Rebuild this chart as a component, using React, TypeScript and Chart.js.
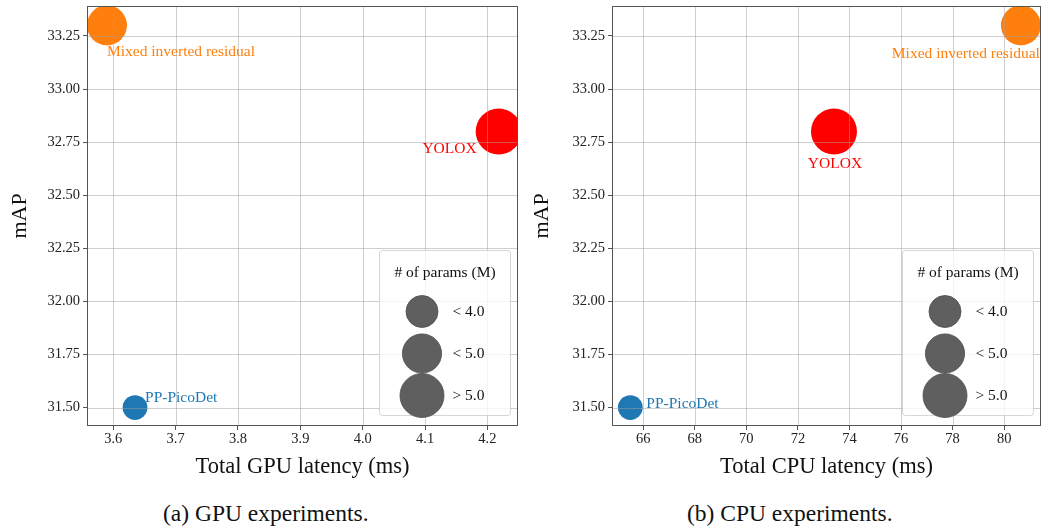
import React, { useEffect, useRef } from 'react';
import { Chart, registerables } from 'chart.js';

Chart.register(...registerables);

// ---------------- data ----------------
const models = ['PP-PicoDet', 'YOLOX', 'Mixed inverted residual'];
const modelColors = ['#1f77b4', '#ff0000', '#ff7f0e'];
const mAP = [31.5, 32.8, 33.3];
const gpuLatency = [3.635, 4.218, 3.59];
const cpuLatency = [65.5, 73.4, 80.65];
const paramsM = [3.1, 5.75, 5.0];

const legendTitle = '# of params (M)';
const legendLabels = ['< 4.0', '< 5.0', '> 5.0'];
const legendParams = [4.0, 4.9, 5.5];

const yTicks = [31.5, 31.75, 32.0, 32.25, 32.5, 32.75, 33.0, 33.25];
const gpuTicks = [3.6, 3.7, 3.8, 3.9, 4.0, 4.1, 4.2];
const cpuTicks = [66, 68, 70, 72, 74, 76, 78, 80];
const yRange = [31.413, 33.391];
const gpuRange = [3.558, 4.249];
const cpuRange = [64.79, 81.43];

// ---------------- styles ----------------
const FONT = '"Liberation Serif", "Times New Roman", serif';
const RADIUS_PER_M = 4; // px of bubble radius per million params
const GRID_COLOR = 'rgba(160,160,160,0.5)';
const SPINE_COLOR = '#555555';

type LabelStyle = { dx: number; dy: number; align: CanvasTextAlign };
const gpuLabelStyles: LabelStyle[] = [
  { dx: 10, dy: -10, align: 'left' },
  { dx: -22, dy: 17, align: 'right' },
  { dx: 0, dy: 27, align: 'left' },
];
const cpuLabelStyles: LabelStyle[] = [
  { dx: 16, dy: -4, align: 'left' },
  { dx: 1, dy: 32, align: 'center' },
  { dx: 19, dy: 29, align: 'right' },
];

type PanelProps = {
  xValues: number[];
  xTicks: number[];
  xRange: number[];
  xDecimals: number;
  xTitle: string;
  labelStyles: LabelStyle[];
  yAxisWidth: number;
  padRight: number;
  yTitlePad: number;
  width: number;
  height: number;
};

const overlayPlugin = {
  id: 'overlay',
  afterDatasetsDraw(chart: any, _args: any, opts: any) {
    const { ctx, chartArea: a } = chart;
    const xs = chart.scales.x;
    const ys = chart.scales.y;
    ctx.save();
    // grid above data (matplotlib axisbelow=False)
    ctx.beginPath();
    ctx.rect(a.left, a.top, a.right - a.left, a.bottom - a.top);
    ctx.clip();
    ctx.strokeStyle = GRID_COLOR;
    ctx.lineWidth = 1;
    ctx.beginPath();
    opts.xTicks.forEach((v: number) => {
      const px = Math.round(xs.getPixelForValue(v)) + 0.5;
      ctx.moveTo(px, a.top);
      ctx.lineTo(px, a.bottom);
    });
    yTicks.forEach((v: number) => {
      const py = Math.round(ys.getPixelForValue(v)) + 0.5;
      ctx.moveTo(a.left, py);
      ctx.lineTo(a.right, py);
    });
    ctx.stroke();
    ctx.restore();

    // point annotations
    ctx.save();
    ctx.font = `15.5px ${FONT}`;
    ctx.textBaseline = 'middle';
    models.forEach((name, i) => {
      const st: LabelStyle = opts.labelStyles[i];
      const px = xs.getPixelForValue(opts.xValues[i]);
      const py = ys.getPixelForValue(mAP[i]);
      ctx.fillStyle = modelColors[i];
      ctx.textAlign = st.align;
      ctx.fillText(name, px + st.dx, py + st.dy);
    });
    ctx.restore();

    // spines
    ctx.save();
    ctx.strokeStyle = SPINE_COLOR;
    ctx.lineWidth = 1;
    const l = Math.round(a.left) + 0.5;
    const t = Math.round(a.top) + 0.5;
    const r = Math.round(a.right) - 0.5;
    const b = Math.round(a.bottom) - 0.5;
    ctx.strokeRect(l, t, r - l, b - t);
    ctx.restore();

    // size legend
    ctx.save();
    const bw = 131;
    const bh = 165;
    const bx = Math.round(a.right) - 8 - bw + 0.5;
    const by = Math.round(a.bottom) - 11 - bh + 0.5;
    ctx.beginPath();
    (ctx as any).roundRect(bx, by, bw, bh, 3);
    ctx.fillStyle = 'rgba(255,255,255,0.8)';
    ctx.fill();
    ctx.strokeStyle = 'rgba(204,204,204,0.8)';
    ctx.lineWidth = 1;
    ctx.stroke();
    ctx.fillStyle = '#111';
    ctx.font = `15.5px ${FONT}`;
    ctx.textAlign = 'center';
    ctx.textBaseline = 'middle';
    ctx.fillText(legendTitle, bx + bw / 2, by + 22);
    const rowY = [61, 103, 145];
    legendParams.forEach((pm, i) => {
      const cy = by + rowY[i];
      const cx = bx + 42.5;
      ctx.beginPath();
      ctx.arc(cx, cy, pm * RADIUS_PER_M, 0, Math.PI * 2);
      ctx.fillStyle = '#5f5f5f';
      ctx.fill();
      ctx.strokeStyle = '#4c4c4c';
      ctx.lineWidth = 0.8;
      ctx.stroke();
      ctx.fillStyle = '#111';
      ctx.textAlign = 'left';
      ctx.fillText(legendLabels[i], bx + 73, cy);
    });
    ctx.restore();
  },
};

function Panel(p: PanelProps) {
  const ref = useRef<HTMLCanvasElement>(null);
  useEffect(() => {
    if (!ref.current) return;
    const chart = new Chart(ref.current, {
      type: 'bubble',
      data: {
        datasets: [
          {
            data: models.map((_, i) => ({
              x: p.xValues[i],
              y: mAP[i],
              r: paramsM[i] * RADIUS_PER_M,
            })),
            backgroundColor: modelColors,
            borderWidth: 0,
            hoverRadius: 0,
            clip: 0,
          } as any,
        ],
      },
      options: {
        animation: false,
        responsive: false,
        devicePixelRatio: 1,
        events: [],
        layout: {
          autoPadding: false,
          padding: { left: 0, top: 6, right: p.padRight, bottom: 0 },
        },
        plugins: {
          legend: { display: false },
          tooltip: { enabled: false },
          title: { display: false },
          overlay: {
            xValues: p.xValues,
            xTicks: p.xTicks,
            labelStyles: p.labelStyles,
          },
        } as any,
        scales: {
          x: {
            type: 'linear',
            min: p.xRange[0],
            max: p.xRange[1],
            offset: false,
            afterBuildTicks: (s: any) => {
              s.ticks = p.xTicks.map((v) => ({ value: v }));
            },
            afterFit: (s: any) => {
              s.height = 64;
              s.paddingLeft = 0;
              s.paddingRight = 0;
              s.paddingTop = 0;
              s.paddingBottom = 0;
            },
            border: { display: false },
            grid: {
              drawOnChartArea: false,
              drawTicks: true,
              tickLength: 4,
              tickColor: SPINE_COLOR,
              lineWidth: 1,
            },
            ticks: {
              autoSkip: false,
              maxRotation: 0,
              padding: 0,
              color: '#222',
              font: { family: FONT, size: 14.5 },
              callback: (v: any) => Number(v).toFixed(p.xDecimals),
            },
            title: {
              display: true,
              text: p.xTitle,
              color: '#111',
              font: { family: FONT, size: 22.5 },
              padding: { top: 0, bottom: 9 },
            },
          },
          y: {
            type: 'linear',
            min: yRange[0],
            max: yRange[1],
            offset: false,
            afterBuildTicks: (s: any) => {
              s.ticks = yTicks.map((v) => ({ value: v }));
            },
            afterFit: (s: any) => {
              s.width = p.yAxisWidth;
              s.paddingLeft = 0;
              s.paddingRight = 0;
              s.paddingTop = 0;
              s.paddingBottom = 0;
            },
            border: { display: false },
            grid: {
              drawOnChartArea: false,
              drawTicks: true,
              tickLength: 4,
              tickColor: SPINE_COLOR,
              lineWidth: 1,
            },
            ticks: {
              autoSkip: false,
              padding: 3,
              color: '#222',
              font: { family: FONT, size: 14.5 },
              callback: (v: any) => Number(v).toFixed(2),
            },
            title: {
              display: true,
              text: 'mAP',
              color: '#111',
              font: { family: FONT, size: 22 },
              padding: { top: p.yTitlePad, bottom: 0 },
            },
          },
        },
      },
      plugins: [overlayPlugin],
    } as any);
    return () => chart.destroy();
  }, []);
  return <canvas ref={ref} width={p.width} height={p.height} style={{ display: 'block' }} />;
}

const captionStyle: React.CSSProperties = {
  position: 'absolute',
  top: 502,
  fontFamily: FONT,
  fontSize: 23.5,
  lineHeight: '23.5px',
  color: '#111',
  textAlign: 'center',
  whiteSpace: 'nowrap',
};

export default function App() {
  return (
    <div
      style={{
        position: 'fixed',
        left: 0,
        top: 0,
        width: 1043,
        height: 529,
        background: '#fff',
        overflow: 'hidden',
      }}
    >
      <div style={{ position: 'absolute', left: 0, top: 0 }}>
        <Panel
          xValues={gpuLatency}
          xTicks={gpuTicks}
          xRange={gpuRange}
          xDecimals={1}
          xTitle="Total GPU latency (ms)"
          labelStyles={gpuLabelStyles}
          yAxisWidth={87}
          padRight={3}
          yTitlePad={7}
          width={521}
          height={490}
        />
      </div>
      <div style={{ position: 'absolute', left: 521, top: 0 }}>
        <Panel
          xValues={cpuLatency}
          xTicks={cpuTicks}
          xRange={cpuRange}
          xDecimals={0}
          xTitle="Total CPU latency (ms)"
          labelStyles={cpuLabelStyles}
          yAxisWidth={91}
          padRight={2}
          yTitlePad={8}
          width={522}
          height={490}
        />
      </div>
      <div style={{ ...captionStyle, left: 163, width: 200 }}>(a) GPU experiments.</div>
      <div style={{ ...captionStyle, left: 687, width: 200 }}>(b) CPU experiments.</div>
    </div>
  );
}
